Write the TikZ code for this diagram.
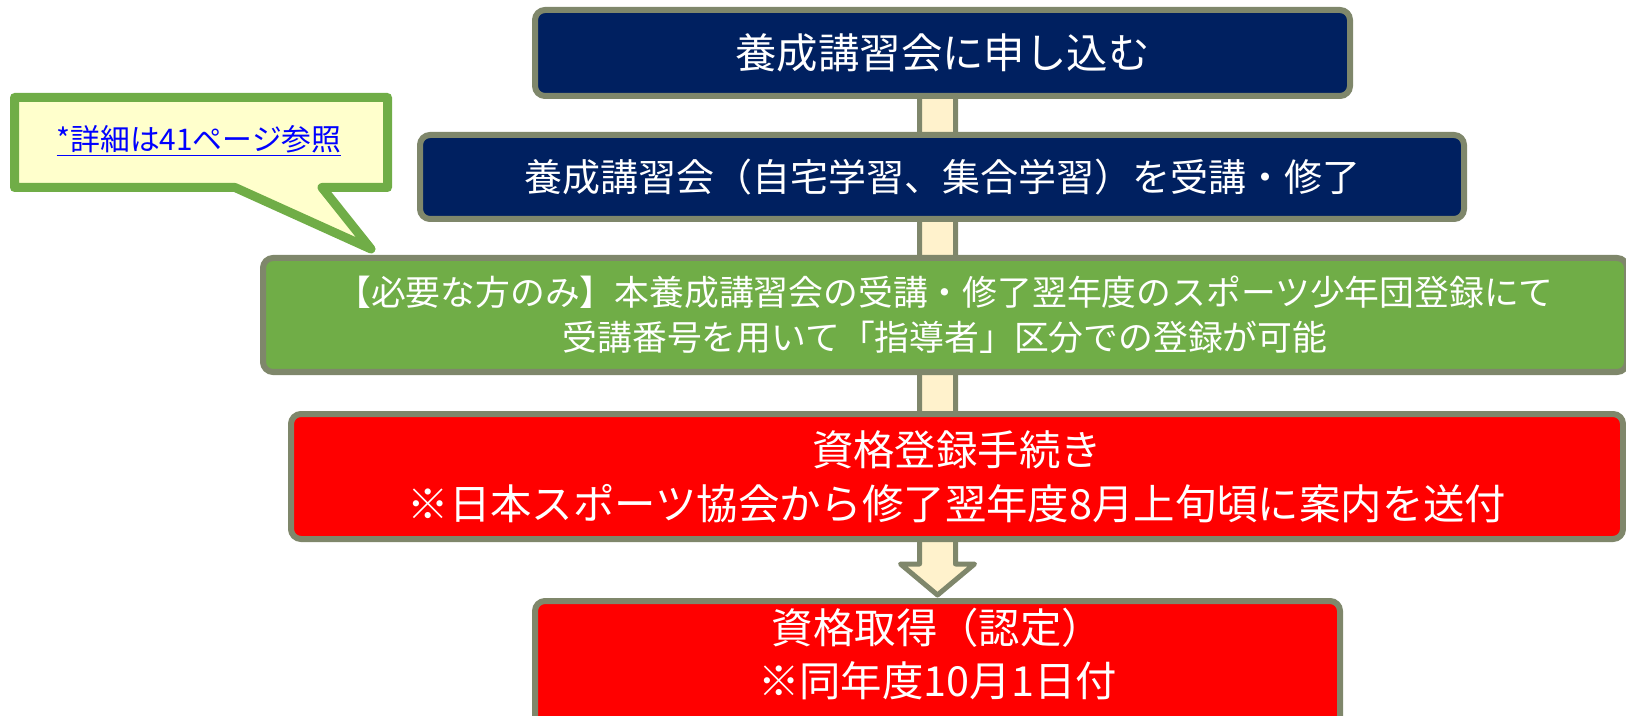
\documentclass[tikz,border=0pt]{standalone}
\usepackage{fontspec}
\setmainfont{Noto Sans CJK JP}
\usetikzlibrary{calc,backgrounds}
\definecolor{navy}{HTML}{002060}
\definecolor{edge}{HTML}{7F876B}
\definecolor{leaf}{HTML}{70AD47}
\definecolor{cream}{HTML}{FFF2CC}
\definecolor{pale}{HTML}{FFFFCC}
\begin{document}
\begin{tikzpicture}[x=0.5pt,y=-0.5pt,
  stepbox/.style={draw=edge,line width=3pt,rounded corners=5pt,text=white,inner sep=0pt,align=center},
  bigfont/.style={font=\fontsize{20.7pt}{27pt}\selectfont}]
\useasboundingbox (0,0) rectangle (1626,716);
\node[stepbox,bigfont,fill=navy,minimum width=407.5pt,minimum height=43pt] (apply) at (942.5,53) {養成講習会に申し込む};
\node[stepbox,fill=navy,minimum width=522pt,minimum height=42pt,font=\fontsize{19pt}{24pt}\selectfont] (course) at (942,177) {養成講習会（自宅学習、集合学習）を受講・修了};
\node[stepbox,fill=leaf,minimum width=682pt,minimum height=57pt,font=\fontsize{17.4pt}{22.3pt}\selectfont] (option) at (945,315) {【必要な方のみ】本養成講習会の受講・修了翌年度のスポーツ少年団登録にて\\受講番号を用いて「指導者」区分での登録が可能};
\node[stepbox,bigfont,fill=red,minimum width=666pt,minimum height=62.5pt] (regist) at (957,476.5) {資格登録手続き\\※日本スポーツ協会から修了翌年度8月上旬頃に案内を送付};
\node[stepbox,fill=red,minimum width=402.5pt,minimum height=70pt,anchor=north] (certif) at (937.5,598) {};
\node[text=white,align=center,inner sep=0pt,font=\fontsize{20.7pt}{26.5pt}\selectfont] (certiftext) at (937.5,654) {資格取得（認定）\\※同年度10月1日付};
\begin{scope}[on background layer]
\draw[draw=edge,fill=cream,line width=2.5pt,line join=round] ($(certif.north)+(0,-3)$) coordinate (tip) -- ++(-37,-31) -- ++(19,0) -- ++(0,-500) -- ++(36,0) -- ++(0,500) -- ++(19,0) -- cycle;
\end{scope}
\draw[draw=leaf,fill=pale,line width=4.5pt,line join=round] (14.5,97.5) -- (387.5,97.5) -- (387.5,187.5) -- (322,187.5) -- (371,249) -- (235,187.5) -- (14.5,187.5) -- cycle;
\node[text=blue,inner sep=0pt,font=\fontsize{14.9pt}{18pt}\selectfont] (note) at (199,141) {\underline{*詳細は41ページ参照}};
\end{tikzpicture}
\end{document}
